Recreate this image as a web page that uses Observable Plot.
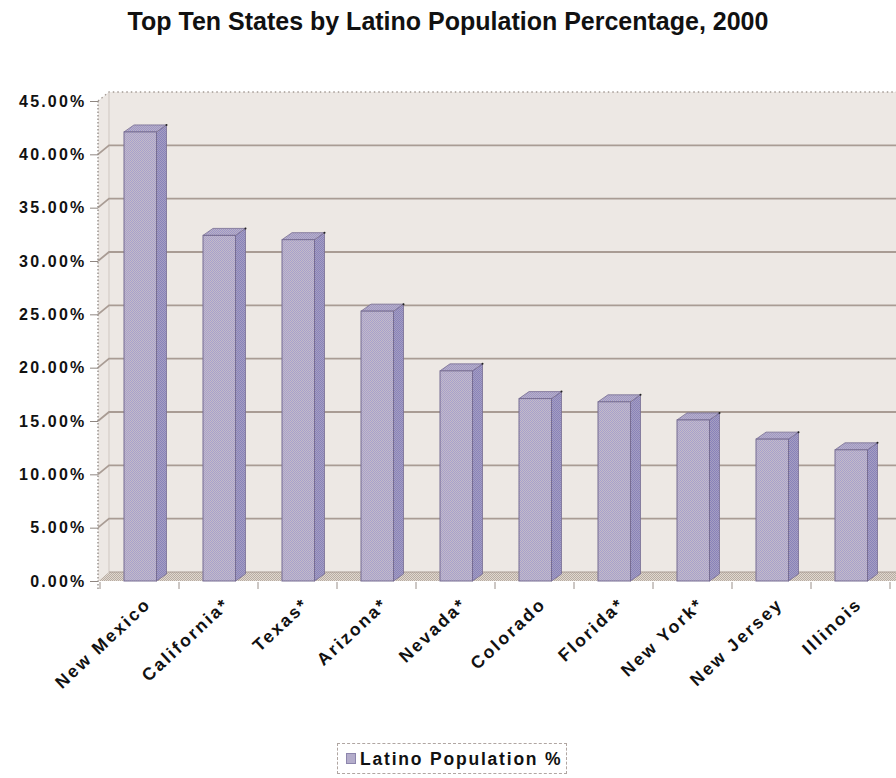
<!DOCTYPE html>
<html>
<head>
<meta charset="utf-8">
<script src="https://cdn.jsdelivr.net/npm/d3@7"></script>
<script src="https://cdn.jsdelivr.net/npm/@observablehq/plot@0.6"></script>
<style>
  body { margin: 0; background: #fff; font-family: "Liberation Sans", Arial, sans-serif; }
  #wrap { position: relative; width: 896px; height: 778px; overflow: hidden; background: #fff; }
  #title { position: absolute; left: 0; top: 0; width: 896px; text-align: center; font-size: 25px; font-weight: bold; line-height: 42px; color: #111; }
  #chart { position: absolute; left: 0; top: 40px; }
  #chart g[aria-label="y-axis tick label"] text { letter-spacing: 2.2px; }
  #chart g[aria-label="text"] text { letter-spacing: 2.3px; }
  #legend { position: absolute; left: 337px; top: 743px; width: 230px; height: 31px; border: 1px dashed #b0a6a2; box-sizing: border-box; }
  #legend .sw { position: absolute; left: 8px; top: 9px; width: 10px; height: 11px; background: #b4adcb; border: 1px solid #8d86ad; box-sizing: border-box; }
  #legend .lt { position: absolute; left: 22px; top: 0; line-height: 30px; font-size: 17.5px; font-weight: bold; letter-spacing: 1.8px; color: #111; white-space: nowrap; }
</style>
</head>
<body>
<svg width="0" height="0" style="position:absolute">
  <defs>
    <pattern id="frontPat" width="2" height="2" patternUnits="userSpaceOnUse">
      <rect width="2" height="2" fill="#c4bac8"/>
      <rect width="1" height="1" fill="#a7a1cc"/>
      <rect x="1" y="1" width="1" height="1" fill="#a7a1cc"/>
    </pattern>
    <pattern id="sidePat" width="2" height="2" patternUnits="userSpaceOnUse">
      <rect width="2" height="2" fill="#a79fbf"/>
      <rect width="1" height="1" fill="#8782bc"/>
      <rect x="1" y="1" width="1" height="1" fill="#8782bc"/>
    </pattern>
    <pattern id="topPat" width="2" height="2" patternUnits="userSpaceOnUse">
      <rect width="2" height="2" fill="#bab1c6"/>
      <rect width="1" height="1" fill="#9c96c6"/>
      <rect x="1" y="1" width="1" height="1" fill="#9c96c6"/>
    </pattern>
    <pattern id="floorPat" width="2" height="2" patternUnits="userSpaceOnUse">
      <rect width="2" height="2" fill="#e0d8d0"/>
      <rect width="1" height="1" fill="#b8aca2"/>
      <rect x="1" y="1" width="1" height="1" fill="#b8aca2"/>
    </pattern>
  </defs>
</svg>
<div id="wrap">
  <div id="title"></div>
  <div id="chart"></div>
  <div id="legend"><span class="sw"></span><span class="lt"></span></div>
</div>
<script>
// ---- data ----
const titleText = "Top Ten States by Latino Population Percentage, 2000";
const seriesName = "Latino Population %";
const states = ["New Mexico", "California*", "Texas*", "Arizona*", "Nevada*", "Colorado", "Florida*", "New York*", "New Jersey", "Illinois"];
const pcts = [42.1, 32.4, 32.0, 25.3, 19.7, 17.1, 16.8, 15.1, 13.3, 12.3];
const yTicks = [0, 5, 10, 15, 20, 25, 30, 35, 40, 45];

const data = states.map((s, i) => ({state: s, pct: pcts[i]}));

// ---- style constants ----
const WALL = "#ede8e4";
const GRID = "#a99c94";
const EDGE = "#776d92";
const DX = 11, DY = -9;      // wall depth
const BDX = 10, BDY = -7;    // bar depth
const INSET_L = 24, INSET_R = 22.5;

document.getElementById("title").textContent = titleText;
document.querySelector("#legend .lt").textContent = seriesName;

const pts = a => a.map(p => p.join(",")).join(" ");

// back walls, floor, gridlines
function walls(index, scales, values, dims) {
  const {x, y} = scales;
  const x0 = dims.marginLeft, x1 = dims.width - dims.marginRight + 30;
  const ymax = y.domain()[1];
  const yTop = y(ymax), yBase = y(0);
  const g = d3.create("svg:g");
  g.append("polygon").attr("points", pts([[x0, yTop], [x0 + DX, yTop + DY], [x0 + DX, yBase + DY], [x0, yBase]])).attr("fill", WALL);
  g.append("rect").attr("x", x0 + DX).attr("y", yTop + DY).attr("width", x1 - x0).attr("height", yBase - yTop).attr("fill", WALL);
  g.append("polyline").attr("points", pts([[x0, yTop], [x0 + DX, yTop + DY], [x1, yTop + DY]]))
    .attr("fill", "none").attr("stroke", "#a39a94").attr("stroke-dasharray", "1.5,3").attr("stroke-width", 1.3);
  g.append("line").attr("x1", x0 + DX).attr("x2", x0 + DX).attr("y1", yTop + DY).attr("y2", yBase + DY)
    .attr("stroke", "#cfc7c1").attr("stroke-width", 1);
  for (const t of yTicks) {
    if (t <= 0 || t >= ymax) continue;
    const yy = y(t);
    g.append("polyline").attr("points", pts([[x0, yy], [x0 + DX, yy + DY], [x1, yy + DY]]))
      .attr("fill", "none").attr("stroke", GRID).attr("stroke-width", 1.8);
  }
  g.append("polygon").attr("points", pts([[x0, yBase], [x0 + DX, yBase + DY], [x1, yBase + DY], [x1, yBase]]))
    .attr("fill", "url(#floorPat)");
  g.append("line").attr("x1", x0 + DX).attr("x2", x1).attr("y1", yBase + DY).attr("y2", yBase + DY)
    .attr("stroke", GRID).attr("stroke-width", 1.2);
  g.append("line").attr("x1", x0).attr("x2", x0).attr("y1", yTop).attr("y2", yBase + 9)
    .attr("stroke", "#8f8782").attr("stroke-dasharray", "1.5,2").attr("stroke-width", 1.3);
  const bw = x.bandwidth();
  const bounds = states.map(s => x(s)).concat([x(states[states.length - 1]) + bw]);
  for (const b of bounds) {
    g.append("line").attr("x1", b).attr("x2", b).attr("y1", yBase + 1).attr("y2", yBase + 8)
      .attr("stroke", "#9a908a").attr("stroke-width", 1);
  }
  return g.node();
}

// side & top faces of bars
function barDepth(index, scales) {
  const {x, y} = scales;
  const bw = x.bandwidth();
  const g = d3.create("svg:g");
  for (const d of data) {
    const xl = x(d.state) + INSET_L, xr = x(d.state) + bw - INSET_R;
    const yt = y(d.pct), yb = y(0);
    g.append("polygon").attr("points", pts([[xr, yt], [xr + BDX, yt + BDY], [xr + BDX, yb + BDY], [xr, yb]]))
      .attr("fill", "url(#sidePat)").attr("stroke", EDGE).attr("stroke-width", 0.8).attr("stroke-linejoin", "round");
    g.append("polygon").attr("points", pts([[xl, yt], [xl + BDX, yt + BDY], [xr + BDX, yt + BDY], [xr, yt]]))
      .attr("fill", "url(#topPat)").attr("stroke", EDGE).attr("stroke-width", 0.8).attr("stroke-linejoin", "round");
    g.append("circle").attr("cx", xr + BDX).attr("cy", yt + BDY).attr("r", 1).attr("fill", "#222");
  }
  return g.node();
}

const plot = Plot.plot({
  width: 896,
  height: 700,
  marginTop: 61,
  marginBottom: 159,
  marginLeft: 98,
  marginRight: 4,
  style: {fontFamily: '"Liberation Sans", Arial, sans-serif', background: "transparent", color: "#111"},
  x: {type: "band", domain: states, padding: 0, axis: null},
  y: {domain: [0, 45], axis: null},
  marks: [
    walls,
    barDepth,
    Plot.barY(data, {x: "state", y: "pct", fill: "url(#frontPat)", stroke: EDGE, strokeWidth: 1, insetLeft: INSET_L, insetRight: INSET_R}),
    Plot.axisY({
      ticks: yTicks, tickFormat: d => d.toFixed(2) + "%", tickSize: 8, tickPadding: 4,
      stroke: "#8f8782", fill: "#111", fontSize: 16, fontWeight: "bold", label: null
    }),
    Plot.text(data, {
      x: "state", y: d => 0, text: "state", rotate: -43, textAnchor: "end", lineAnchor: "bottom",
      dx: 12, dy: 24, fontSize: 17.5, fontWeight: "bold", fill: "#111"
    })
  ]
});
document.getElementById("chart").appendChild(plot);
</script>
</body>
</html>
